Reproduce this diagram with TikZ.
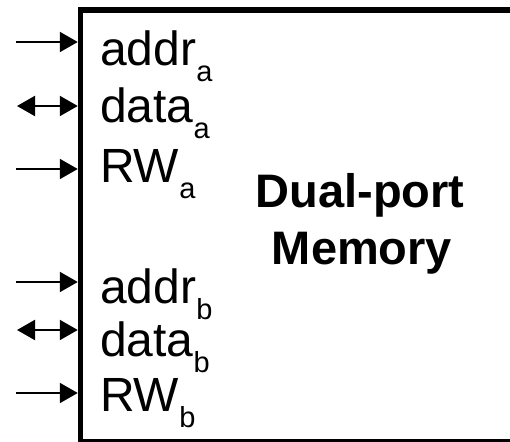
\documentclass[tikz,border=0pt]{standalone}
\usepackage{fontspec}
\setmainfont{Liberation Sans}
\usetikzlibrary{arrows.meta}
% subscript set lower and smaller, as in the port names
\newcommand{\portsub}[1]{\raisebox{-16pt}{\fontsize{29}{29}\selectfont #1}}
\tikzset{
  port/.style={anchor=base west, inner sep=0pt, font=\fontsize{48}{50}\selectfont},
  title/.style={anchor=base, inner sep=0pt, font=\fontsize{47}{50}\selectfont\bfseries},
  inarrow/.style={line width=2pt, -{Triangle[length=18pt,width=20pt]}, shorten >=2.75pt},
  ioarrow/.style={line width=2pt, {Triangle[length=18pt,width=20pt]}-{Triangle[length=18pt,width=20pt]}, shorten >=2.75pt},
}
\begin{document}
\begin{tikzpicture}[x=1pt, y=-1pt]
  \useasboundingbox (0,0) rectangle (510,441);
  \clip (0,0) rectangle (510,441);
  % memory block (right and bottom sides run past the edge)
  \node[draw, line width=5.5pt, outer sep=0pt, inner sep=0pt,
        minimum width=440pt, minimum height=432pt, anchor=north west] (mem) at (80.5,10) {};
  % port labels
  \node[port] (la1) at (100,66)  {addr\portsub{a}};
  \node[port] (la2) at (100,122) {data\portsub{a}};
  \node[port] (la3) at (100,182) {RW\portsub{a}};
  \node[port] (lb1) at (100,303) {addr\portsub{b}};
  \node[port] (lb2) at (100,356) {data\portsub{b}};
  \node[port] (lb3) at (100,411) {RW\portsub{b}};
  % block title
  \node[title] (t1) at (360,207) {Dual-port};
  \node[title] (t2) at (362,264) {Memory};
  % arrow start points
  \coordinate (sa1) at (16,42);
  \coordinate (sa2) at (17,106);
  \coordinate (sa3) at (16,169);
  \coordinate (sb1) at (16,282);
  \coordinate (sb2) at (17,330);
  \coordinate (sb3) at (16,393);
  \draw[inarrow] (sa1) -- (sa1 -| mem.west);
  \draw[ioarrow] (sa2) -- (sa2 -| mem.west);
  \draw[inarrow] (sa3) -- (sa3 -| mem.west);
  \draw[inarrow] (sb1) -- (sb1 -| mem.west);
  \draw[ioarrow] (sb2) -- (sb2 -| mem.west);
  \draw[inarrow] (sb3) -- (sb3 -| mem.west);
\end{tikzpicture}
\end{document}
